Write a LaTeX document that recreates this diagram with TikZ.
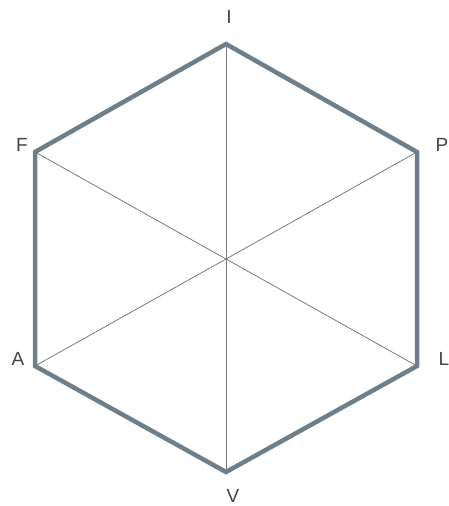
\documentclass[tikz,border=0pt]{standalone}
\usepackage{fontspec}
\setmainfont{Liberation Sans}
\definecolor{hexcol}{HTML}{6E7F8C}
\definecolor{spoke}{HTML}{7A7A7A}
\definecolor{lab}{HTML}{444444}
\begin{document}
\begin{tikzpicture}[x=1pt,y=-1pt,
  hexedge/.style={draw=hexcol,line width=4.5pt,line join=miter},
  spokeline/.style={draw=spoke,line width=0.8pt},
  vlabel/.style={text=lab,font=\fontsize{19}{19}\selectfont,inner sep=0pt,anchor=center}]
\useasboundingbox (0,0) rectangle (449,506);
\coordinate (I) at (226,44);
\coordinate (P) at (417,152);
\coordinate (L) at (417,366);
\coordinate (V) at (226,472);
\coordinate (A) at (35,366);
\coordinate (F) at (35,152);
\draw[spokeline] (I) -- (V);
\draw[spokeline] (F) -- (L);
\draw[spokeline] (P) -- (A);
\draw[hexedge] (I) -- (P) -- (L) -- (V) -- (A) -- (F) -- cycle;
\node[vlabel] (tI) at (229,17) {I};
\node[vlabel] (tF) at (22,145) {F};
\node[vlabel] (tP) at (442,145) {P};
\node[vlabel] (tA) at (18,359) {A};
\node[vlabel] (tL) at (444,359) {L};
\node[vlabel] (tV) at (233,496) {V};
\end{tikzpicture}
\end{document}
